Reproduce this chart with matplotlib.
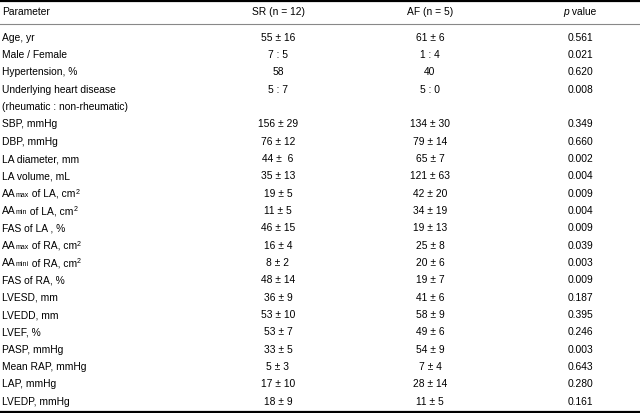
import re

import matplotlib
matplotlib.use("Agg")
import matplotlib.pyplot as plt
from matplotlib.transforms import offset_copy

plt.rcParams["font.family"] = ["Liberation Sans", "DejaVu Sans"]

headers = ["Parameter", "SR (n = 12)", "AF (n = 5)", "p value"]

# _{..} = small text on the baseline, ^{..} = superscript
params = ["Age, yr", "Male / Female", "Hypertension, %", "Underlying heart disease",
          "(rheumatic : non-rheumatic)", "SBP, mmHg", "DBP, mmHg", "LA diameter, mm",
          "LA volume, mL", "AA_{max} of LA, cm^{2}", "AA_{min} of LA, cm^{2}",
          "FAS of LA , %", "AA_{max} of RA, cm^{2}", "AA_{mini} of RA, cm^{2}",
          "FAS of RA, %", "LVESD, mm", "LVEDD, mm", "LVEF, %", "PASP, mmHg",
          "Mean RAP, mmHg", "LAP, mmHg", "LVEDP, mmHg"]
sr_vals = ["55 ± 16", "7 : 5", "58", "5 : 7", "", "156 ± 29", "76 ± 12", "44 ±  6",
           "35 ± 13", "19 ± 5", "11 ± 5", "46 ± 15", "16 ± 4", "8 ± 2", "48 ± 14",
           "36 ± 9", "53 ± 10", "53 ± 7", "33 ± 5", "5 ± 3", "17 ± 10", "18 ± 9"]
af_vals = ["61 ± 6", "1 : 4", "40", "5 : 0", "", "134 ± 30", "79 ± 14", "65 ± 7",
           "121 ± 63", "42 ± 20", "34 ± 19", "19 ± 13", "25 ± 8", "20 ± 6", "19 ± 7",
           "41 ± 6", "58 ± 9", "49 ± 6", "54 ± 9", "7 ± 4", "28 ± 14", "11 ± 5"]
p_vals = ["0.561", "0.021", "0.620", "0.008", "", "0.349", "0.660", "0.002", "0.004",
          "0.009", "0.004", "0.009", "0.039", "0.003", "0.009", "0.187", "0.395",
          "0.246", "0.003", "0.643", "0.280", "0.161"]

fig = plt.figure(figsize=(6.4, 4.13), dpi=100)
ax = fig.add_axes([0, 0, 1, 1])
ax.set_xlim(0, 640)
ax.set_ylim(413, 0)
ax.axis("off")
renderer = fig.canvas.get_renderer()

fs = 7.4
col_x = [278, 430, 580]


def draw_pieces(x, y, pieces):
    """draw (text, size, rise, style) pieces one after another, return width"""
    dx = 0.0
    for part, size, rise, style in pieces:
        trans = offset_copy(ax.transData, fig=fig, x=dx, y=rise, units="dots")
        t = ax.text(x, y, part, fontsize=size, ha="left", va="baseline",
                    style=style, transform=trans)
        dx += t.get_window_extent(renderer).width
    return dx


def label_pieces(label):
    pieces = []
    for part in re.split(r"(_\{[^}]*\}|\^\{[^}]*\})", label):
        if not part:
            continue
        if part.startswith("_{"):
            pieces.append((part[2:-1], fs * 0.68, 0, "normal"))
        elif part.startswith("^{"):
            pieces.append((part[2:-1], fs * 0.7, 3.2, "normal"))
        else:
            pieces.append((part, fs, 0, "normal"))
    return pieces


# rules
ax.plot([0, 640], [1, 1], color="black", lw=1.6)
ax.plot([0, 640], [24, 24], color="#888888", lw=0.8)
ax.plot([0, 640], [411.5, 411.5], color="black", lw=1.6)

# header
hy = 15.3
ax.text(2, hy, headers[0], fontsize=fs, va="baseline", ha="left")
ax.text(col_x[0], hy, headers[1], fontsize=fs, va="baseline", ha="center")
ax.text(col_x[1], hy, headers[2], fontsize=fs, va="baseline", ha="center")
p_word, rest = headers[3].split(" ", 1)
p_pieces = [(p_word, fs, 0, "italic"), (" " + rest, fs, 0, "normal")]
probe = ax.text(0, 0, p_word, fontsize=fs, style="italic")
w = probe.get_window_extent(renderer).width
probe.set_text(" " + rest)
probe.set_style("normal")
w += probe.get_window_extent(renderer).width
probe.remove()
draw_pieces(col_x[2] - w / 2, hy, p_pieces)

row_h = (401 - 37) / 21
for i, (p, s, a, pv) in enumerate(zip(params, sr_vals, af_vals, p_vals)):
    y = 40.7 + i * row_h
    draw_pieces(2, y, label_pieces(p))
    for x, v in zip(col_x, (s, a, pv)):
        ax.text(x, y, v, fontsize=fs, va="baseline", ha="center")

fig.savefig("out.png", dpi=100)
